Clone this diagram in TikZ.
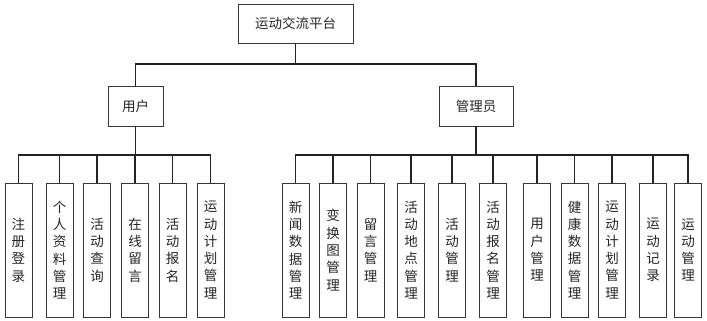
\documentclass[tikz,border=0pt]{standalone}
\usepackage{fontspec}
\newfontfamily\cjk{Noto Sans CJK SC}
\definecolor{boxgray}{RGB}{55,55,55}
\definecolor{linegray}{RGB}{35,35,35}
\usetikzlibrary{positioning}

\begin{document}
\begin{tikzpicture}[x=1pt, y=-1pt,
		box/.style={draw=boxgray, line width=0.9pt, fill=white, inner sep=0pt,
			align=center, text=black!85, font=\cjk\fontsize{13.5}{17.3}\selectfont},
		head/.style={box, minimum width=#1, minimum height=39pt},
		leaf/.style={box, minimum width=27pt, minimum height=134pt},
		link/.style={linegray, line width=1.8pt}
	]
		\useasboundingbox (0,0) rectangle (707,321);

		% 顶层与第二层
		\node[head=115pt] (root) at (295.5,23.5) {运动交流平台};
		\node[head=55pt, minimum height=40pt] (user) at (135.5,106) {用户};
		\node[head=74pt, minimum height=40pt] (admin) at (476,106) {管理员};

		% 用户功能
		\node[leaf] (u1) at (18.5,250) {注\\册\\登\\录};
		\node[leaf] (u2) at (59.5,250) {个\\人\\资\\料\\管\\理};
		\node[leaf] (u3) at (97,250) {活\\动\\查\\询};
		\node[leaf] (u4) at (135,250) {在\\线\\留\\言};
		\node[leaf] (u5) at (172.5,250) {活\\动\\报\\名};
		\node[leaf] (u6) at (210.5,250) {运\\动\\计\\划\\管\\理};

		% 管理员功能
		\node[leaf] (a1) at (295.5,250) {新\\闻\\数\\据\\管\\理};
		\node[leaf] (a2) at (333,250) {变\\换\\图\\管\\理};
		\node[leaf] (a3) at (370.5,250) {留\\言\\管\\理};
		\node[leaf] (a4) at (411,250) {活\\动\\地\\点\\管\\理};
		\node[leaf] (a5) at (452,250) {活\\动\\管\\理};
		\node[leaf] (a6) at (493,250) {活\\动\\报\\名\\管\\理};
		\node[leaf] (a7) at (537,250) {用\\户\\管\\理};
		\node[leaf] (a8) at (574.5,250) {健\\康\\数\\据\\管\\理};
		\node[leaf] (a9) at (612,250) {运\\动\\计\\划\\管\\理};
		\node[leaf] (a10) at (653,250) {运\\动\\记\\录};
		\node[leaf] (a11) at (688,250) {运\\动\\管\\理};

		% 连线
		\coordinate (rbus) at (295.5,64);
		\coordinate (ubus) at (135.5,155);
		\coordinate (abus) at (476,155);

		\draw[link] (root.south) -- (rbus) -| (user.north);
		\draw[link] (rbus) -| (admin.north);

		\draw[link] (user.south) -- (ubus);
		\draw[link] (ubus) -| (u1.north);
		\draw[link] (ubus) -| (u2.north);
		\draw[link] (ubus) -| (u3.north);
		\draw[link] (ubus) -| (u4.north);
		\draw[link] (ubus) -| (u5.north);
		\draw[link] (ubus) -| (u6.north);

		\draw[link] (admin.south) -- (abus);
		\draw[link] (abus) -| (a1.north);
		\draw[link] (abus) -| (a2.north);
		\draw[link] (abus) -| (a3.north);
		\draw[link] (abus) -| (a4.north);
		\draw[link] (abus) -| (a5.north);
		\draw[link] (abus) -| (a6.north);
		\draw[link] (abus) -| (a7.north);
		\draw[link] (abus) -| (a8.north);
		\draw[link] (abus) -| (a9.north);
		\draw[link] (abus) -| (a10.north);
		\draw[link] (abus) -| (a11.north);
	\end{tikzpicture}
\end{document}
